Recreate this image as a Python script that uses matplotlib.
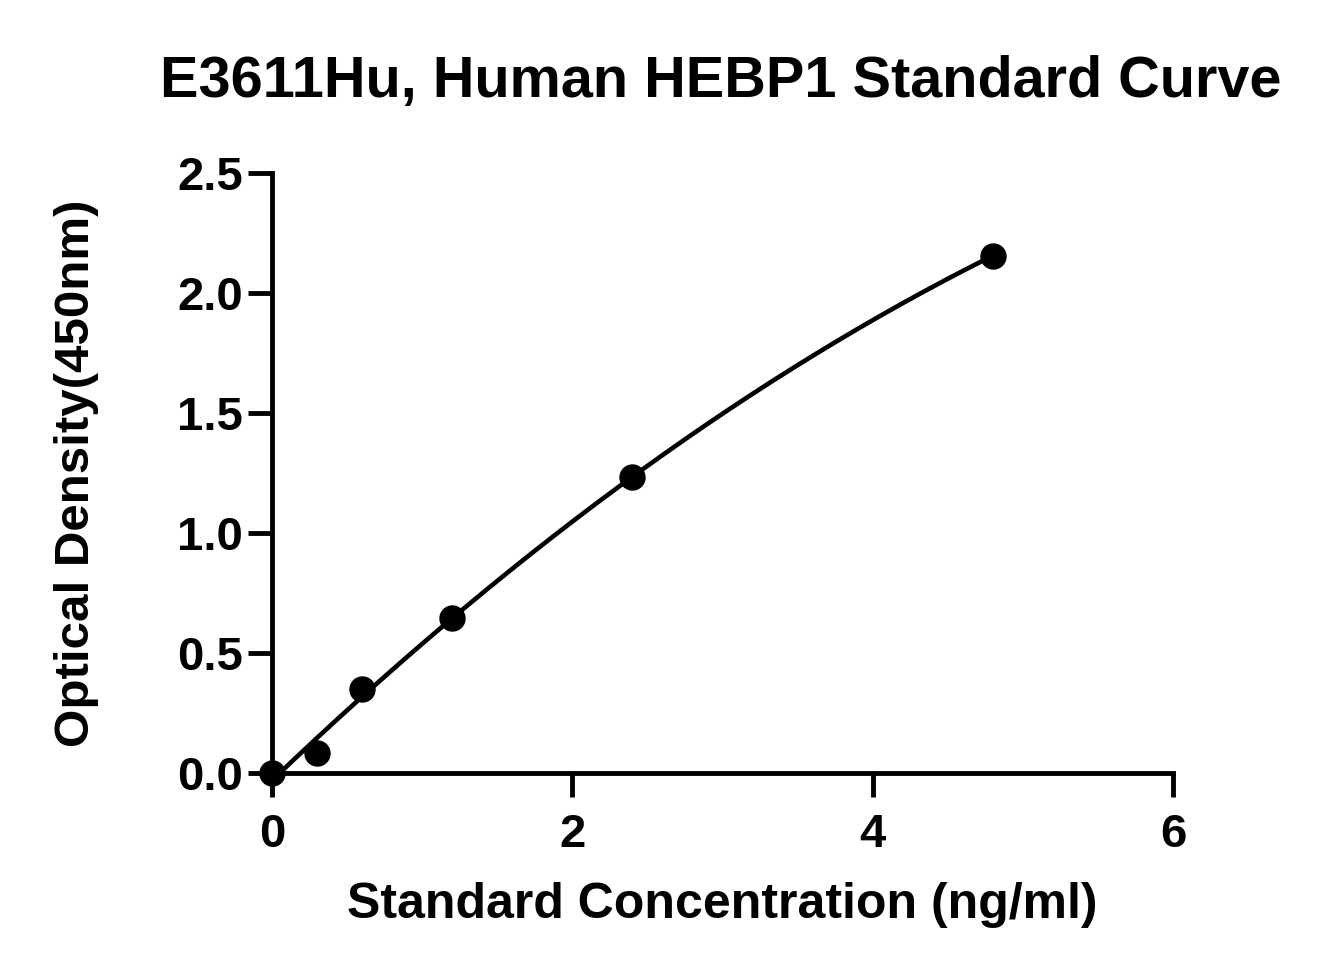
### STANDARD CURVE PLOT FOR HEBP1 ELISA ###
import numpy as np
import matplotlib
matplotlib.use('Agg')
import matplotlib.pyplot as plt

### DATA ###
conc = [0.0, 0.3, 0.6, 1.2, 2.4, 4.8]
od = [0.0, 0.083, 0.35, 0.645, 1.235, 2.155]

x_ticks = [0, 2, 4, 6]
y_ticks = [0.0, 0.5, 1.0, 1.5, 2.0, 2.5]
y_tick_labels = ['0.0', '0.5', '1.0', '1.5', '2.0', '2.5']

title = 'E3611Hu, Human HEBP1 Standard Curve'
x_label = 'Standard Concentration (ng/ml)'
y_label = 'Optical Density(450nm)'

### PLOT ###
plt.rcParams['font.family'] = ['Liberation Sans', 'DejaVu Sans']
plt.rcParams['font.weight'] = 'bold'

fig = plt.figure(figsize=(13.38, 9.75), dpi=100)
ax = fig.add_axes([0.2033, 0.2072, 0.6734, 0.6154])

# Fitted curve (quadratic fit of the standards)
coef = np.polyfit(conc, od, 2)
xs = np.linspace(conc[0], conc[-1], 200)
ax.plot(xs, np.polyval(coef, xs), color='black', lw=3.3, zorder=2)

# Standards
ax.plot(conc, od, 'o', color='black', markersize=18, zorder=3, clip_on=False)

ax.set_xlim(0, 6)
ax.set_ylim(0, 2.5)
ax.set_xticks(x_ticks)
ax.set_yticks(y_ticks)
ax.set_yticklabels(y_tick_labels)

for s in ['top', 'right']:
    ax.spines[s].set_visible(False)
for s in ['left', 'bottom']:
    ax.spines[s].set_linewidth(3.5)

ax.tick_params(axis='both', direction='out', length=17, width=3.5,
               labelsize=34)
ax.tick_params(axis='x', pad=12)
ax.tick_params(axis='y', pad=4)
for lab in ax.get_xticklabels() + ax.get_yticklabels():
    lab.set_fontweight('bold')

ax.set_xlabel(x_label, fontsize=36, fontweight='bold', labelpad=18)
ax.set_ylabel(y_label, fontsize=35.5, fontweight='bold', labelpad=56)
fig.text(0.5385, 0.9005, title, fontsize=41.5, fontweight='bold',
         ha='center', va='baseline')

fig.savefig('out.png', dpi=100)
